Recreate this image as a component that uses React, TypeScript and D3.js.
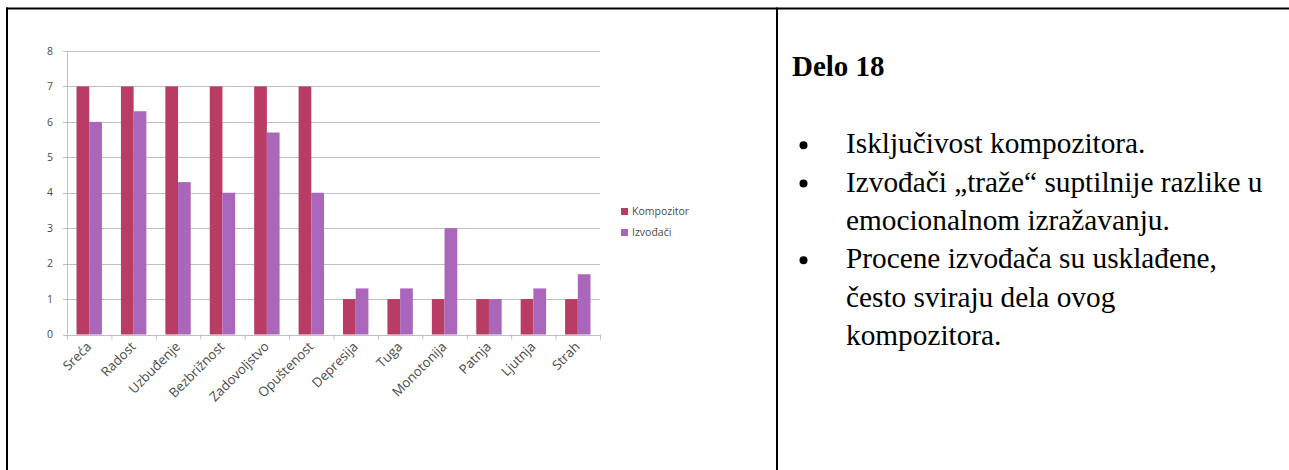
import React from "react";
import * as d3 from "d3";

const categories = ["Sreća", "Radost", "Uzbuđenje", "Bezbrižnost", "Zadovoljstvo", "Opuštenost", "Depresija", "Tuga", "Monotonija", "Patnja", "Ljutnja", "Strah"];
const kompozitor = [7, 7, 7, 7, 7, 7, 1, 1, 1, 1, 1, 1];
const izvodjaci = [6, 6.3, 4.3, 4, 5.7, 4, 1.3, 1.3, 3, 1, 1.3, 1.7];
const seriesNames = ["Kompozitor", "Izvođači"];
const seriesColors = ["#B93C64", "#AA66BB"];
const yTicks = [0, 1, 2, 3, 4, 5, 6, 7, 8];
const title = "Delo 18";
const bulletLines = [
  { bullet: true, text: "Isključivost kompozitora." },
  { bullet: true, text: "Izvođači „traže“ suptilnije razlike u" },
  { bullet: false, text: "emocionalnom izražavanju." },
  { bullet: true, text: "Procene izvođača su usklađene," },
  { bullet: false, text: "često sviraju dela ovog" },
  { bullet: false, text: "kompozitora." },
];

export default function App() {
  const W = 1289, H = 470;
  const left = 67, right = 600, top = 51, bottom = 334.5;
  const x = d3.scaleBand<string>().domain(categories).range([left, right]).paddingInner(0.428).paddingOuter(0.214);
  const xs = d3.scaleBand<string>().domain(seriesNames).range([0, x.bandwidth()]);
  const y = d3.scaleLinear().domain([0, 8]).range([bottom, top]);
  const data = [kompozitor, izvodjaci];
  const step = x.step();
  const boundaries = d3.range(categories.length + 1).map((i) => left + i * step);
  const axisColor = "#BFBFBF";
  const textColor = "#4A4A4A";
  const chartFont = "'Open Sans', 'Liberation Sans', sans-serif";
  const serif = "'Liberation Serif', 'Times New Roman', serif";

  return (
    <div style={{ position: "absolute", left: 0, top: 0 }}>
      <svg width={W} height={H} style={{ display: "block" }}>
        <rect x={0} y={0} width={W} height={H} fill="#fff" />
        {/* table frame */}
        <line x1={6} x2={W} y1={8.5} y2={8.5} stroke="#000" strokeWidth={2} />
        <line x1={7} x2={7} y1={7.5} y2={H} stroke="#000" strokeWidth={2} />
        <line x1={777} x2={777} y1={7.5} y2={H} stroke="#000" strokeWidth={2} />

        {/* gridlines */}
        {yTicks.filter((t) => t > 0).map((t) => (
          <line key={t} x1={left} x2={right} y1={Math.round(y(t)) + 0.5} y2={Math.round(y(t)) + 0.5} stroke={axisColor} strokeWidth={1} />
        ))}
        {/* y axis */}
        <line x1={left + 0.5} x2={left + 0.5} y1={top} y2={bottom} stroke={axisColor} />
        {yTicks.map((t) => (
          <g key={t}>
            <line x1={left - 4} x2={left} y1={Math.round(y(t)) + 0.5} y2={Math.round(y(t)) + 0.5} stroke={axisColor} />
            <text x={left - 14} y={y(t)} dy="0.35em" textAnchor="end" fontSize={10.5} fill={textColor} fontFamily={chartFont}>{t}</text>
          </g>
        ))}
        {/* bars */}
        {categories.map((c, i) => (
          <g key={c}>
            {data.map((s, j) => (
              <rect key={j} x={(x(c) as number) + (xs(seriesNames[j]) as number)} y={y(s[i])} width={xs.bandwidth()} height={y(0) - y(s[i])} fill={seriesColors[j]} />
            ))}
          </g>
        ))}
        {/* x axis */}
        <line x1={left} x2={right} y1={Math.round(bottom) + 0.5} y2={Math.round(bottom) + 0.5} stroke={axisColor} />
        {boundaries.map((bx, i) => (
          <line key={i} x1={bx + 0.5} x2={bx + 0.5} y1={bottom} y2={bottom + 5} stroke={axisColor} />
        ))}
        {categories.map((c) => {
          const cx = (x(c) as number) + x.bandwidth() / 2 + 3;
          const cy = bottom + 13;
          return (
            <text key={c} x={cx} y={cy} transform={`rotate(-45 ${cx} ${cy})`} textAnchor="end" fontSize={13.2} fill={textColor} fontFamily={chartFont}>{c}</text>
          );
        })}
        {/* legend */}
        {seriesNames.map((n, j) => (
          <g key={n} transform={`translate(621, ${208 + j * 21})`}>
            <rect x={0} y={0} width={7} height={7} fill={seriesColors[j]} />
            <text x={11} y={3.5} dy="0.35em" fontSize={10.5} fill={textColor} fontFamily={chartFont}>{n}</text>
          </g>
        ))}

        {/* right panel text */}
        <text x={792} y={76} fontFamily={serif} fontWeight="bold" fontSize={29} fill="#000">{title}</text>
        {bulletLines.map((l, i) => {
          const by = 153.3 + i * 38.3;
          return (
            <g key={i}>
              {l.bullet && <circle cx={803.5} cy={by - 8} r={4} fill="#000" />}
              <text x={846} y={by} fontFamily={serif} fontSize={29.3} fill="#000">{l.text}</text>
            </g>
          );
        })}
      </svg>
    </div>
  );
}
